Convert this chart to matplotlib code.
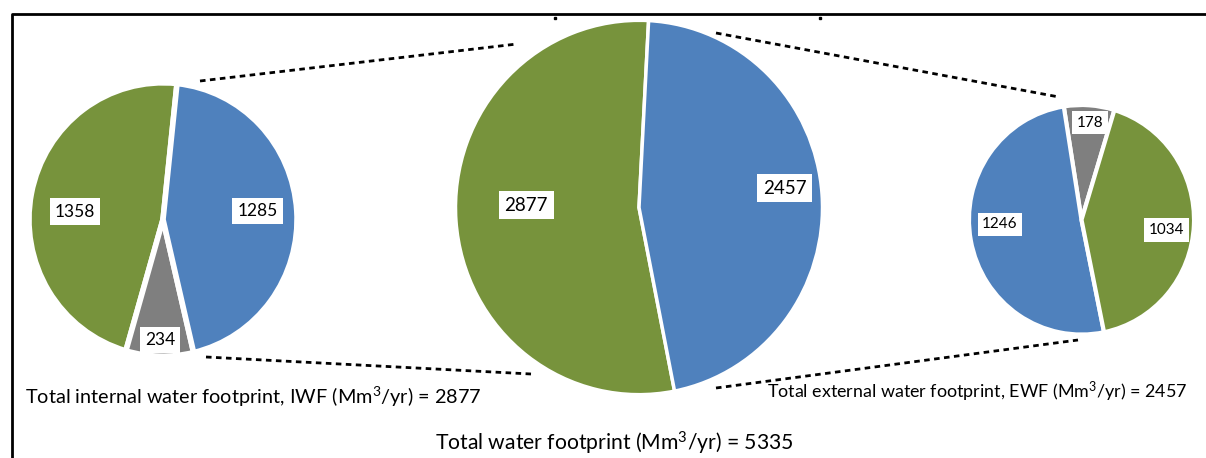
import numpy as np
import matplotlib
matplotlib.use("Agg")
import matplotlib.pyplot as plt

plt.rcParams["font.family"] = ["Lato", "DejaVu Sans"]
plt.rcParams["mathtext.fontset"] = "custom"
plt.rcParams["mathtext.rm"] = "Lato"
plt.rcParams["mathtext.it"] = "Lato:italic"

# data
iwf_labels = ["1358", "234", "1285"]
iwf_values = [1358, 234, 1285]
iwf_colors = ["#77933C", "#7F7F7F", "#4F81BD"]

total_labels = ["2877", "2457"]
total_values = [2877, 2457]
total_colors = ["#77933C", "#4F81BD"]

ewf_labels = ["178", "1246", "1034"]
ewf_values = [178, 1246, 1034]
ewf_colors = ["#7F7F7F", "#4F81BD", "#77933C"]

W, H = 1206, 458
S = 1.02  # pies in the original are a touch taller than wide
fig = plt.figure(figsize=(W / 100, H / 100), dpi=100)
ax = fig.add_axes([0, 0, 1, 1])


def Y(y):
    # image row -> data y
    return (H - y) / S


def draw_pie(values, labels, colors, center, radius, start, explode, lw,
             dists, shifts, fs):
    cx, cy = center[0], Y(center[1])
    wedges, texts = ax.pie(values, labels=labels, colors=colors, startangle=start,
                           counterclock=True, center=(cx, cy), radius=radius,
                           explode=[explode] * len(values), frame=True,
                           wedgeprops=dict(edgecolor="white", linewidth=lw),
                           labeldistance=0.7,
                           textprops=dict(fontsize=fs, color="black",
                                          bbox=dict(boxstyle="square,pad=0.3", fc="white", ec="none")))
    for w, t, d, s in zip(wedges, texts, dists, shifts):
        mid = np.deg2rad((w.theta1 + w.theta2) / 2 + s)
        t.set_position((cx + d * radius * np.cos(mid), cy + d * radius * np.sin(mid)))
        t.set_ha("center")
        t.set_va("center")


draw_pie(iwf_values, iwf_labels, iwf_colors, (163, 219.5), 134, 84, 0.03, 4,
         [0.66, 0.88, 0.71], [6, 0, 1.4], 12.5)
draw_pie(total_values, total_labels, total_colors, (639, 207.5), 183.5, 87, 0.006, 2.5,
         [0.615, 0.80], [-5.3, 3.3], 13.5)
draw_pie(ewf_values, ewf_labels, ewf_colors, (1081.5, 219.8), 112.5, 73, 0.022, 3,
         [0.85, 0.726, 0.758], [-1.2, -7.2, -4], 11)

# dashed connectors
connectors = [((200, 81), (517, 44)), ((206, 357), (531, 374)),
              ((716, 33), (1059, 97)), ((716, 388), (1078, 340))]
for (x0, y0), (x1, y1) in connectors:
    ax.plot([x0, x1], [Y(y0), Y(y1)], color="black", lw=2, linestyle=(0, (2, 1.6)),
            solid_capstyle="butt", dash_capstyle="butt")

# stray dots above the middle pie
ax.plot([555, 820], [Y(18), Y(18)], "s", color="black", ms=1.5)

# frame (left and top edges)
ax.plot([12, 12, W], [Y(H), Y(14), Y(14)], color="black", lw=2)

ax.text(25, Y(397), "Total internal water footprint, IWF (Mm$^{3}$/yr) = 2877",
        fontsize=14.3, ha="left", va="center")
ax.text(767, Y(392), "Total external water footprint, EWF (Mm$^{3}$/yr) = 2457",
        fontsize=12.9, ha="left", va="center")
ax.text(614, Y(443), "Total water footprint (Mm$^{3}$/yr) = 5335",
        fontsize=15.2, ha="center", va="center")

ax.set_aspect("auto")
ax.set_xlim(0, W)
ax.set_ylim(0, H / S)
ax.axis("off")

fig.savefig("out.png", dpi=100)
